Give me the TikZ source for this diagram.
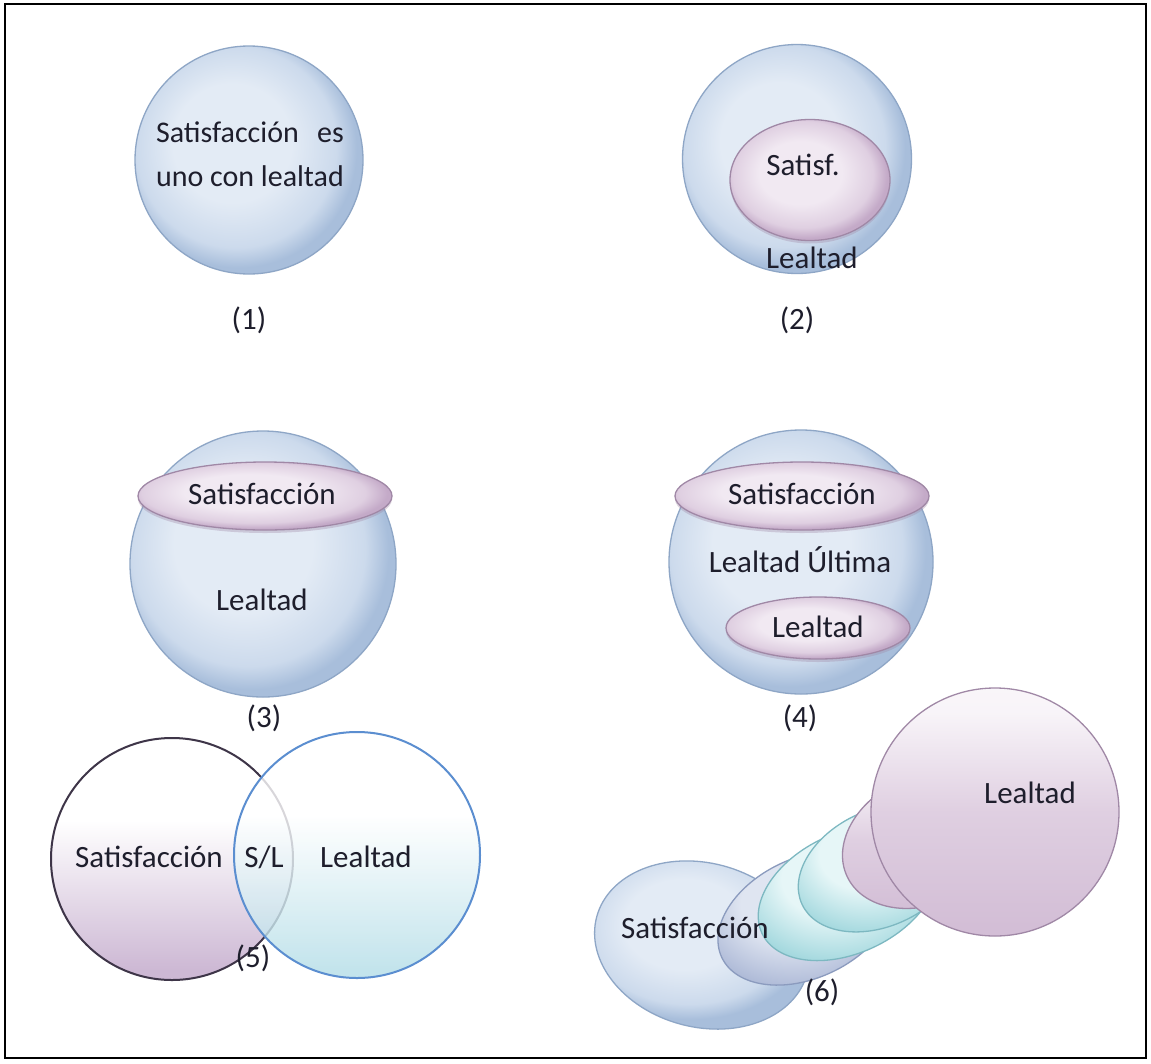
\documentclass[tikz,border=0pt]{standalone}
\usepackage{fontspec}
\setmainfont{Carlito}
\usetikzlibrary{shapes.geometric,shadows}

\definecolor{ink}{HTML}{1E1E2C}
\definecolor{bluein}{HTML}{E3EBF5}
\definecolor{bluemid}{HTML}{CCDAEC}
\definecolor{blueout}{HTML}{A8BEDB}
\definecolor{blueedge}{HTML}{8EA6C6}
\definecolor{purin}{HTML}{F1E9F2}
\definecolor{purmid}{HTML}{DFCFE1}
\definecolor{purout}{HTML}{C4AAC8}
\definecolor{puredge}{HTML}{A088A6}
\definecolor{pursoft}{HTML}{D3BED6}
\definecolor{cyanin}{HTML}{E6F6F7}
\definecolor{cyanout}{HTML}{A3D8DE}
\definecolor{cyanedge}{HTML}{7DB8C1}
\definecolor{slatein}{HTML}{DFE5F1}
\definecolor{slateout}{HTML}{AEBAD7}
\definecolor{slateedge}{HTML}{8B9BBE}
\definecolor{lavbot}{HTML}{CDB8D4}
\definecolor{aquabot}{HTML}{B5DEE8}
\definecolor{venleft}{HTML}{3E3548}
\definecolor{venright}{HTML}{5B8ED0}

% bevelled fills for the discs
\pgfdeclareradialshading{bluebevel}{\pgfpoint{-5bp}{5bp}}{color(0bp)=(bluein); color(13bp)=(bluein); color(22bp)=(bluemid); color(26bp)=(blueout); color(50bp)=(blueout)}
\pgfdeclareradialshading{purbevel}{\pgfpoint{-4bp}{4bp}}{color(0bp)=(purin); color(13bp)=(purin); color(22bp)=(purmid); color(26bp)=(purout); color(50bp)=(purout)}
\pgfdeclareradialshading{cyanbevel}{\pgfpoint{-6bp}{6bp}}{color(0bp)=(cyanin); color(12bp)=(cyanin); color(26bp)=(cyanout); color(50bp)=(cyanout)}
\pgfdeclareradialshading{slatebevel}{\pgfpoint{-6bp}{6bp}}{color(0bp)=(slatein); color(12bp)=(slatein); color(26bp)=(slateout); color(50bp)=(slateout)}
% top-to-bottom fades for the Venn pair and the large disc
\pgfdeclareverticalshading{lavfade}{100bp}{color(0bp)=(lavbot); color(27bp)=(lavbot); color(58bp)=(white); color(100bp)=(white)}
\pgfdeclareverticalshading{aquafade}{100bp}{color(0bp)=(aquabot); color(27bp)=(aquabot); color(58bp)=(white); color(100bp)=(white)}
\pgfdeclareverticalshading{purfade}{100bp}{color(0bp)=(pursoft); color(27bp)=(pursoft); color(50bp)=(purmid); color(70bp)=(purin!50!white); color(100bp)=(white)}

\newcommand\figfont{\fontsize{31}{44}\selectfont}
\newcommand\onefont{\fontsize{30}{44}\selectfont}
\newsavebox\unobox

\begin{document}
\sbox\unobox{\onefont uno con lealtad}%
\begin{tikzpicture}[x=1pt,y=-1pt,
  every node/.style={font=\figfont, text=ink, inner sep=0pt},
  bluecirc/.style={circle, draw=blueedge, line width=1.3pt, shading=bluebevel},
  purell/.style={ellipse, draw=puredge, line width=1.3pt, shading=purbevel,
    drop shadow={shadow xshift=0pt, shadow yshift=-3pt, opacity=0.35, fill=puredge}},
  bluedisc/.style={ellipse, draw=blueedge, line width=1.3pt, shading=bluebevel},
  slatedisc/.style={ellipse, draw=slateedge, line width=1.3pt, shading=slatebevel},
  cyandisc/.style={ellipse, draw=cyanedge, line width=1.3pt, shading=cyanbevel},
  purdisc/.style={ellipse, draw=puredge, line width=1.3pt, shading=purfade},
  venn/.style={circle, line width=2pt}]

\useasboundingbox (0,0) rectangle (1151,1063);
\fill[white] (0,0) rectangle (1151,1063);
\draw[line width=2pt] (5,4) rectangle (1146,1058);

% (1) one single disc
\node[bluecirc, minimum size=228pt] (c1) at (249,160) {};
\node[align=center, font=\onefont] (t1) at (250,154)
  {\makebox[\wd\unobox]{Satisfacción\hfill es}\\uno con lealtad};
\node (l1) at (249,320) {(1)};

% (2) satisfaction inside loyalty
\node[bluecirc, minimum size=229pt] (c2) at (797,159) {};
\node[purell, minimum width=160pt, minimum height=121pt] (e2) at (810,180) {};
\node (s2) at (803,165) {Satisf.};
\node (t2) at (812,258) {Lealtad};
\node (l2) at (797,320) {(2)};

% (3) satisfaction as a band across loyalty
\node[bluecirc, minimum size=266pt] (c3) at (263,564) {};
\node[purell, minimum width=254pt, minimum height=68pt] (e3) at (265,496) {};
\node (s3) at (262,494) {Satisfacción};
\node (t3) at (262,600) {Lealtad};
\node (l3) at (264,718) {(3)};

% (4) ultimate loyalty holding both
\node[bluecirc, minimum size=264pt] (c4) at (801,562) {};
\node[purell, minimum width=254pt, minimum height=68pt] (e4a) at (802,496) {};
\node[purell, minimum width=184pt, minimum height=62pt] (e4b) at (818,628) {};
\node (s4) at (802,494) {Satisfacción};
\node (u4) at (800,560) {Lealtad Última};
\node (t4) at (818,627) {Lealtad};
\node (l4) at (800,718) {(4)};

% (5) overlapping pair
\node[venn, draw=venleft, shading=lavfade, minimum size=242pt] (v1) at (172,859) {};
\node[venn, draw=venright, shading=aquafade, fill opacity=0.8, minimum size=246pt] (v2) at (357,855) {};
\node (s5) at (149,857) {Satisfacción};
\node (m5) at (264,857) {S/L};
\node (t5) at (366,857) {Lealtad};
\node (l5) at (253,958) {(5)};

% (6) a sequence of discs from satisfaction to loyalty
\node[bluedisc, rotate=-15, minimum width=218pt, minimum height=164pt] (d1) at (702,945) {};
\node[slatedisc, rotate=25, minimum width=186pt, minimum height=120pt] (d2) at (806,918) {};
\node[cyandisc, rotate=25, minimum width=190pt, minimum height=120pt] (d3) at (848,893) {};
\node[cyandisc, rotate=25, minimum width=172pt, minimum height=116pt] (d4) at (880,868) {};
\node[purdisc, rotate=25, minimum width=172pt, minimum height=128pt] (d5) at (925,840) {};
\node[purdisc, circle, minimum size=248pt] (d6) at (995,812) {};
\node (s6) at (695,928) {Satisfacción};
\node (t6) at (1030,793) {Lealtad};
\node (l6) at (822,992) {(6)};
\end{tikzpicture}
\end{document}
